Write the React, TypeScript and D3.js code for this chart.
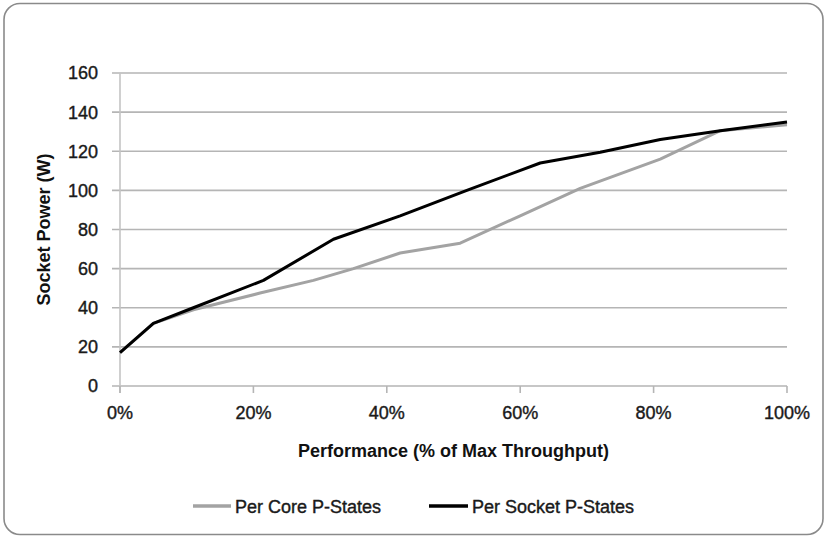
import React from "react";
import * as d3 from "d3";

const perfSocket = [0, 5, 11, 21.5, 32, 42, 52, 63, 72, 81, 90, 100];
const powerSocket = [17, 32, 40, 54, 75, 87, 100, 114, 119.5, 126, 130.5, 135];

const perfCore = [0, 5, 11, 21, 29, 35, 42, 51, 60, 69, 81, 90, 100];
const powerCore = [17, 32, 39, 47.5, 54, 60, 68, 73, 87, 101, 116, 130.5, 133.5];

const yTicks = [0, 20, 40, 60, 80, 100, 120, 140, 160];
const xTicks = [0, 20, 40, 60, 80, 100];
const xTickLabels = ["0%", "20%", "40%", "60%", "80%", "100%"];

const seriesNames = ["Per Core P-States", "Per Socket P-States"];
const seriesColors = ["#a3a3a3", "#000000"];

const W = 826;
const H = 536;
const left = 120;
const right = 787;
const top = 73;
const bottom = 386;
const FONT = "'Liberation Sans', Arial, sans-serif";

export default function App() {
  const x = d3.scaleLinear().domain([0, 100]).range([left, right]);
  const y = d3.scaleLinear().domain([0, 160]).range([bottom, top]);
  const line = d3
    .line<[number, number]>()
    .x((d) => x(d[0]))
    .y((d) => y(d[1]));

  const core: [number, number][] = perfCore.map((p, i) => [p, powerCore[i]]);
  const socket: [number, number][] = perfSocket.map((p, i) => [p, powerSocket[i]]);

  const txt = { fontSize: 18, fill: "#1a1a1a", stroke: "#1a1a1a", strokeWidth: 0.4 };

  return (
    <svg
      width={W}
      height={H}
      style={{ position: "absolute", left: 0, top: 0, background: "#fff" }}
      fontFamily={FONT}
    >
      <rect x={4} y={3.5} width={819} height={531} rx={16} ry={16} fill="#fff" stroke="#8a8a8a" strokeWidth={1.6} />

      {yTicks.map((t) => (
        <line key={"g" + t} x1={112} x2={right} y1={y(t)} y2={y(t)} stroke="#b5b5b5" strokeWidth={1.6} />
      ))}
      <line x1={left} x2={left} y1={top} y2={bottom + 7} stroke="#c4c4c4" strokeWidth={1.6} />
      {xTicks.map((t) => (
        <line key={"xt" + t} x1={x(t)} x2={x(t)} y1={bottom} y2={bottom + 7} stroke="#b5b5b5" strokeWidth={1.6} />
      ))}

      {yTicks.map((t) => (
        <text key={"yl" + t} x={98} y={y(t)} dy="0.36em" textAnchor="end" {...txt}>
          {t}
        </text>
      ))}
      {xTicks.map((t, i) => (
        <text key={"xl" + t} x={x(t)} y={419} textAnchor="middle" {...txt}>
          {xTickLabels[i]}
        </text>
      ))}

      <text x={(left + right) / 2} y={457} textAnchor="middle" fontSize={18} fontWeight="bold" fill="#111">
        Performance (% of Max Throughput)
      </text>
      <text
        transform={`translate(50,${(top + bottom) / 2}) rotate(-90)`}
        textAnchor="middle"
        fontSize={18}
        fontWeight="bold"
        fill="#111"
      >
        Socket Power (W)
      </text>

      <path d={line(core) || ""} fill="none" stroke={seriesColors[0]} strokeWidth={3} strokeLinejoin="round" />
      <path d={line(socket) || ""} fill="none" stroke={seriesColors[1]} strokeWidth={3} strokeLinejoin="round" />

      <line x1={193} x2={231} y1={506} y2={506} stroke={seriesColors[0]} strokeWidth={3.5} />
      <text x={235} y={513} {...txt}>
        {seriesNames[0]}
      </text>
      <line x1={429} x2={468} y1={506} y2={506} stroke={seriesColors[1]} strokeWidth={3.5} />
      <text x={472} y={513} {...txt}>
        {seriesNames[1]}
      </text>
    </svg>
  );
}
